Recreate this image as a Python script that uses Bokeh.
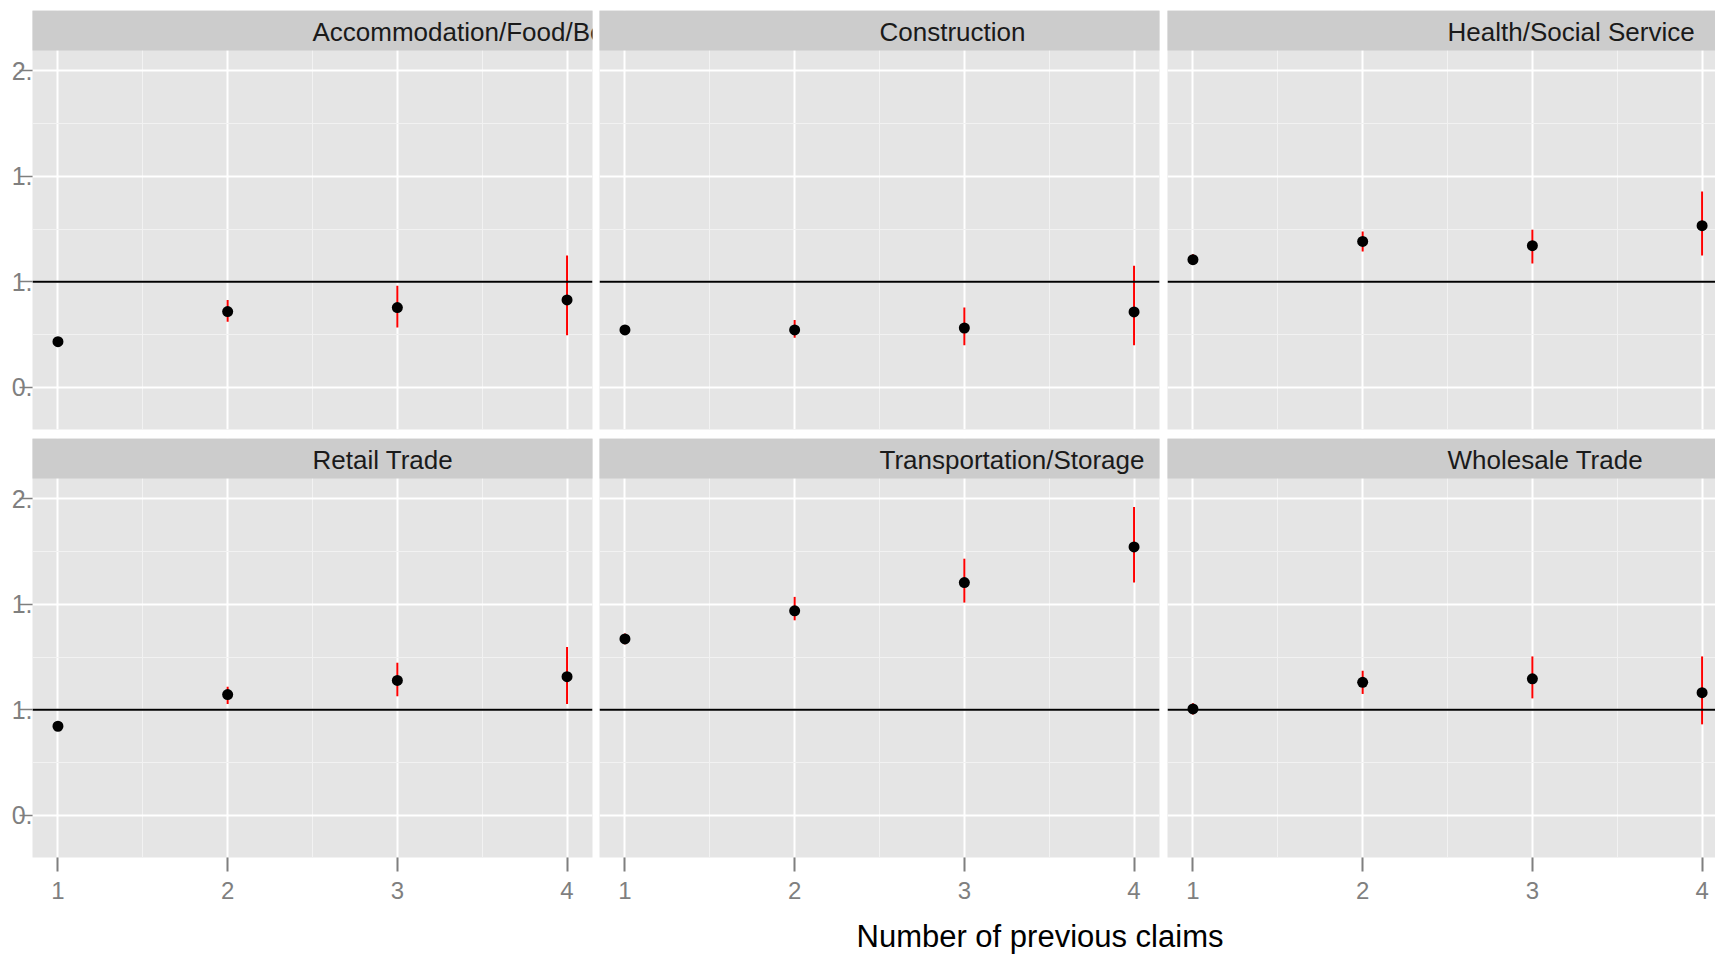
from bokeh.plotting import figure
from bokeh.models import (Range1d, FixedTicker, Grid, LinearAxis, Span,
                          ColumnDataSource, Label)
from bokeh.layouts import row, column
from bokeh.embed import file_html
from bokeh.resources import INLINE
from bokeh.core.properties import value

# ---------------- data ----------------
claims = [1, 2, 3, 4]
x_tick_labels = ["1", "2", "3", "4"]
y_ticks = [0.5, 1.0, 1.5, 2.0]
y_tick_labels = ["0.", "1.", "1.", "2."]   # as they appear (clipped) in the picture
x_title = "Number of previous claims"

panel_titles = ["Accommodation/Food/Beverage", "Construction", "Health/Social Service",
                "Retail Trade", "Transportation/Storage", "Wholesale Trade"]

acc_est = [0.716, 0.859, 0.878, 0.914]
acc_lo = [0.698, 0.811, 0.783, 0.747]
acc_hi = [0.735, 0.914, 0.981, 1.124]

con_est = [0.772, 0.772, 0.781, 0.857]
con_lo = [0.753, 0.735, 0.699, 0.699]
con_hi = [0.790, 0.819, 0.878, 1.076]

hea_est = [1.105, 1.191, 1.171, 1.266]
hea_lo = [1.081, 1.144, 1.087, 1.124]
hea_hi = [1.131, 1.238, 1.247, 1.428]

ret_est = [0.922, 1.072, 1.139, 1.157]
ret_lo = [0.900, 1.027, 1.064, 1.027]
ret_hi = [0.945, 1.109, 1.223, 1.298]

tra_est = [1.336, 1.469, 1.603, 1.772]
tra_lo = [1.310, 1.424, 1.508, 1.603]
tra_hi = [1.362, 1.535, 1.716, 1.961]

who_est = [1.004, 1.130, 1.147, 1.081]
who_lo = [0.978, 1.075, 1.054, 0.931]
who_hi = [1.031, 1.185, 1.253, 1.253]

reference_line = 1.0

# ---------------- styling / layout ----------------
FONT = "Liberation Sans"
X_LO = 0.85
Y_LO, Y_HI = 0.30, 2.096
STRIP = 0.1896          # strip height expressed in data units of the panel
PANEL_BG = "#e5e5e5"
STRIP_BG = "#cccccc"
AXIS_GREY = "#7f7f7f"


def make_panel(title, est, lo, hi, width, mbl, mbr, height, mbt, mbb,
               x_end, left_axis, bottom_axis):
    p = figure(width=width, height=height, title=None,
               x_range=Range1d(X_LO, x_end), y_range=Range1d(Y_LO, Y_HI + STRIP),
               x_axis_type=None, y_axis_type=None,
               toolbar_location=None, output_backend="svg",
               min_border_left=mbl, min_border_right=mbr,
               min_border_top=mbt, min_border_bottom=mbb)
    p.background_fill_color = PANEL_BG
    p.border_fill_color = "white"
    p.outline_line_color = None

    xt = FixedTicker(ticks=claims, minor_ticks=[1.5, 2.5, 3.5])
    yt = FixedTicker(ticks=y_ticks, minor_ticks=[0.75, 1.25, 1.75])
    for dim, t in ((0, xt), (1, yt)):
        g = Grid(dimension=dim, ticker=t,
                 grid_line_color="white", grid_line_width=2,
                 minor_grid_line_color="#f2f2f2", minor_grid_line_width=1)
        p.add_layout(g, "center")

    # facet strip
    p.quad(left=[0], right=[5], bottom=[Y_HI], top=[Y_HI + STRIP],
           fill_color=STRIP_BG, line_color=None)
    p.text(x=[2.5], y=[Y_HI + 0.087], text=[title],
           text_align="left", text_baseline="middle",
           text_font=value(FONT), text_font_size="26px", text_color="#1a1a1a")

    p.add_layout(Span(location=reference_line, dimension="width",
                      line_color="black", line_width=2))

    src = ColumnDataSource(dict(x=claims, est=est, lo=lo, hi=hi))
    p.segment(x0="x", y0="lo", x1="x", y1="hi", source=src,
              line_color="red", line_width=2)
    p.scatter("x", "est", source=src, size=11, fill_color="black", line_color=None)

    if left_axis:
        ax = LinearAxis(ticker=FixedTicker(ticks=y_ticks),
                        major_label_overrides={t: l for t, l in zip(y_ticks, y_tick_labels)},
                        axis_line_color=None,
                        major_tick_in=0, major_tick_out=13,
                        minor_tick_in=0, minor_tick_out=0,
                        major_tick_line_color=AXIS_GREY, major_tick_line_width=1.5,
                        major_label_standoff=-13,
                        major_label_text_font=FONT,
                        major_label_text_font_size="25px",
                        major_label_text_color=AXIS_GREY)
        p.add_layout(ax, "left")
    if bottom_axis:
        ax = LinearAxis(ticker=FixedTicker(ticks=claims),
                        major_label_overrides={c: l for c, l in zip(claims, x_tick_labels)},
                        axis_line_color=None,
                        major_tick_in=0, major_tick_out=14,
                        minor_tick_in=0, minor_tick_out=0,
                        major_tick_line_color=AXIS_GREY, major_tick_line_width=2,
                        major_label_standoff=10,
                        major_label_text_font=FONT,
                        major_label_text_font_size="24px",
                        major_label_text_color=AXIS_GREY)
        p.add_layout(ax, "below")
    return p


series = [(acc_est, acc_lo, acc_hi), (con_est, con_lo, con_hi), (hea_est, hea_lo, hea_hi),
          (ret_est, ret_lo, ret_hi), (tra_est, tra_lo, tra_hi), (who_est, who_lo, who_hi)]

# column geometry: (fig width, min_border_left, min_border_right, x range end)
cols = [(596, 32, 4, 4.15), (567, 3, 4, 4.15), (552, 4, 0, 4.079)]
# row geometry: (fig height, min_border_top, min_border_bottom, bottom axis)
rows = [(438, 10, 9, False), (479, 0, 60, True)]

fig_rows = []
k = 0
for r, (h, mbt, mbb, bax) in enumerate(rows):
    figs = []
    for c, (w, mbl, mbr, xe) in enumerate(cols):
        est, lo, hi = series[k]
        figs.append(make_panel(panel_titles[k], est, lo, hi, w, mbl, mbr, h, mbt, mbb,
                               xe, left_axis=(c == 0), bottom_axis=bax))
        k += 1
    fig_rows.append(row(*figs))

TW, TH = 1715, 37
t = figure(width=TW, height=TH, title=None,
           x_range=Range1d(0, TW), y_range=Range1d(0, TH),
           x_axis_type=None, y_axis_type=None, toolbar_location=None,
           output_backend="svg", min_border=0)
t.outline_line_color = None
t.background_fill_color = "white"
t.border_fill_color = "white"
t.add_layout(Label(x=856, y=18, text=x_title, text_font=FONT, text_font_size="31px",
                   text_color="black", text_baseline="middle", text_align="left"))

layout = column(fig_rows[0], fig_rows[1], t)

open("out.html", "w").write(file_html(layout, INLINE))
